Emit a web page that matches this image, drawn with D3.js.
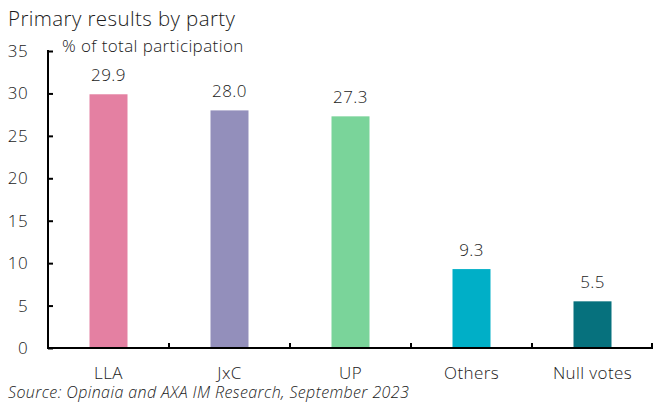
<!DOCTYPE html>
<html>
<head>
<meta charset="utf-8">
<script src="https://cdn.jsdelivr.net/npm/d3@7"></script>
<style>
  body { margin: 0; background: #fff; }
  svg { display: block; font-family: "Open Sans", "Noto Sans", sans-serif; }
  .txt { fill: #1a1a1a; font-weight: 300; letter-spacing: 0.4px; }
</style>
</head>
<body>
<svg id="chart" width="653" height="403"></svg>
<script>
const categories = ['LLA', 'JxC', 'UP', 'Others', 'Null votes'];
const values = [29.9, 28.0, 27.3, 9.3, 5.5];
const colors = ['#E480A2', '#938FBB', '#7AD49A', '#00AFC7', '#06717D'];
const yTicks = [0, 5, 10, 15, 20, 25, 30, 35];

const svg = d3.select('#chart');
const plotL = 48, plotR = 653, plotT = 51, plotB = 348;

const x = d3.scaleBand().domain(categories).range([plotL, plotR]).paddingInner(0).paddingOuter(0);
const y = d3.scaleLinear().domain([0, 35]).range([plotB, plotT]);
const barW = 38;

// Title & subtitle
svg.append('text').attr('class', 'txt').attr('x', 8).attr('y', 26)
  .style('font-size', '20.5px').text('Primary results by party');
svg.append('text').attr('class', 'txt').attr('x', 62).attr('y', 52)
  .style('font-size', '17px').text('% of total participation');

// Bars
svg.selectAll('.bar').data(categories).enter().append('rect')
  .attr('class', 'bar')
  .attr('x', d => x(d) + x.bandwidth() / 2 - barW / 2)
  .attr('width', barW)
  .attr('y', (d, i) => y(values[i]))
  .attr('height', (d, i) => y(0) - y(values[i]))
  .attr('fill', (d, i) => colors[i]);

// Value labels
svg.selectAll('.val').data(categories).enter().append('text')
  .attr('class', 'txt')
  .attr('x', d => x(d) + x.bandwidth() / 2)
  .attr('y', (d, i) => y(values[i]) - 13)
  .attr('text-anchor', 'middle')
  .style('font-size', '17px')
  .text((d, i) => values[i].toFixed(1));

// Y axis
const yAxis = d3.axisRight(y).tickValues(yTicks).tickSize(5).tickFormat('');
const ya = svg.append('g').attr('transform', `translate(${plotL},0)`).call(yAxis);
ya.select('.domain').remove();
ya.selectAll('line').attr('stroke', '#000').attr('stroke-width', 2);
ya.append('line').attr('x1', 0).attr('x2', 0).attr('y1', y(35) - 1).attr('y2', y(0) + 1)
  .attr('stroke', '#000').attr('stroke-width', 2);

svg.selectAll('.ytl').data(yTicks).enter().append('text')
  .attr('class', 'txt')
  .attr('x', 28).attr('y', d => y(d) + 6)
  .attr('text-anchor', 'end')
  .style('font-size', '17px')
  .text(d => d);

// X axis with category boundary ticks
const bounds = categories.map(d => x(d) + x.bandwidth());
svg.append('line').attr('x1', plotL - 1).attr('x2', plotR).attr('y1', y(0)).attr('y2', y(0))
  .attr('stroke', '#000').attr('stroke-width', 2);
svg.selectAll('.xt').data(bounds).enter().append('line')
  .attr('x1', d => Math.min(d, plotR - 1)).attr('x2', d => Math.min(d, plotR - 1))
  .attr('y1', y(0)).attr('y2', y(0) - 5)
  .attr('stroke', '#000').attr('stroke-width', 2);

svg.selectAll('.xl').data(categories).enter().append('text')
  .attr('class', 'txt')
  .attr('x', d => x(d) + x.bandwidth() / 2)
  .attr('y', 379)
  .attr('text-anchor', 'middle')
  .style('font-size', '17px')
  .text(d => d);

// Source
svg.append('text').attr('class', 'txt').attr('x', 8).attr('y', 398)
  .style('font-size', '16px').style('font-style', 'italic')
  .text('Source: Opinaia and AXA IM Research, September 2023');
</script>
</body>
</html>
